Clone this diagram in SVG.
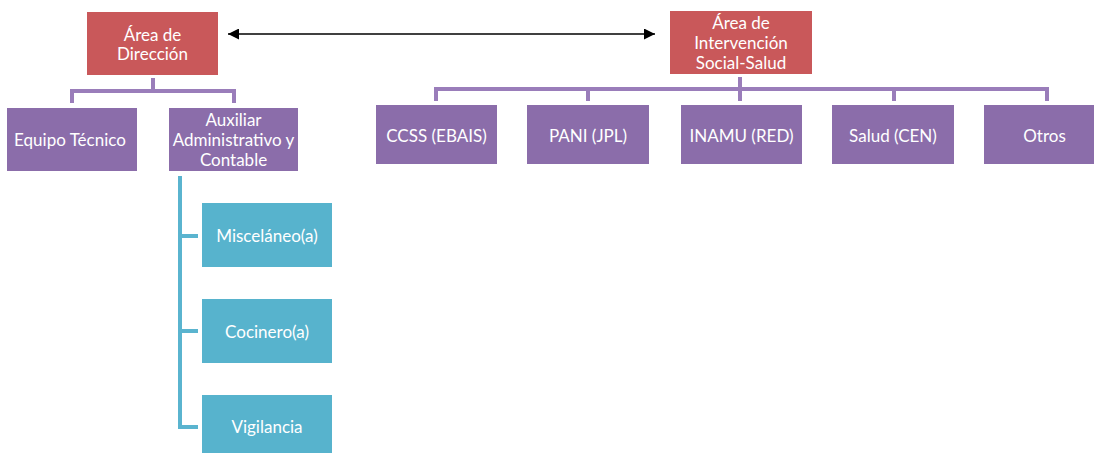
<svg xmlns="http://www.w3.org/2000/svg" width="1094" height="453" viewBox="0 0 1094 453">
<defs>
<style>
.red{fill:#C9585A}
.pur{fill:#8B6DAA}
.cya{fill:#57B3CD}
text{font-family:Lato,"Open Sans","Liberation Sans",sans-serif;font-size:17px;fill:#FFFFFF;text-anchor:middle;dominant-baseline:central}
.pl{fill:none;stroke:#9A7DBA;stroke-width:4}
.cl{fill:none;stroke:#5AB4CF;stroke-width:4}
</style>
<marker id="ah" viewBox="0 0 10 10" refX="10" refY="5" markerWidth="16" markerHeight="11" markerUnits="userSpaceOnUse" orient="auto-start-reverse">
<path d="M0,0 L10,5 L0,10 Z" fill="#000"/>
</marker>
</defs>
<rect width="1094" height="453" fill="#FFFFFF"/>
<g id="connectors">
<line x1="228" y1="34" x2="655" y2="34" stroke="#000" stroke-width="1.5" marker-start="url(#ah)" marker-end="url(#ah)"/>
<path class="pl" d="M153,78 V91 M72,103 V91 H234 V103"/>
<path class="pl" d="M740,77 V89 M436,101 V89 H1047 V101 M588,89 V101 M740,89 V101 M894,89 V101"/>
<path class="cl" d="M180,176 V427 H198 M180,236 H198 M180,331 H198"/>
</g>
<g id="direccion"><rect class="red" x="87" y="12" width="131" height="63"/><text x="152.5" y="34">Área de</text><text x="152.5" y="53">Dirección</text></g>
<g id="intervencion"><rect class="red" x="670" y="11" width="142" height="63"/><text x="741" y="22">Área de</text><text x="741" y="42">Intervención</text><text x="741" y="62">Social-Salud</text></g>
<g id="equipo"><rect class="pur" x="7" y="108" width="130" height="63"/><text x="70" y="139">Equipo Técnico</text></g>
<g id="auxiliar"><rect class="pur" x="169" y="108" width="129" height="63"/><text x="233.5" y="119">Auxiliar</text><text x="233.5" y="139">Administrativo y</text><text x="233.5" y="159">Contable</text></g>
<g id="ccss"><rect class="pur" x="376" y="105" width="121" height="59"/><text x="436.5" y="135">CCSS  (EBAIS)</text></g>
<g id="pani"><rect class="pur" x="527" y="105" width="122" height="59"/><text x="588" y="135">PANI (JPL)</text></g>
<g id="inamu"><rect class="pur" x="681" y="105" width="121" height="59"/><text x="741.5" y="135">INAMU (RED)</text></g>
<g id="salud"><rect class="pur" x="832" y="105" width="122" height="59"/><text x="893" y="135">Salud (CEN)</text></g>
<g id="otros"><rect class="pur" x="984" y="105" width="121" height="59"/><text x="1044.5" y="135">Otros</text></g>
<g id="miscelaneo"><rect class="cya" x="202" y="203" width="130" height="64"/><text x="267" y="235">Misceláneo(a)</text></g>
<g id="cocinero"><rect class="cya" x="202" y="299" width="130" height="64"/><text x="267" y="331">Cocinero(a)</text></g>
<g id="vigilancia"><rect class="cya" x="202" y="395" width="130" height="64"/><text x="267" y="426">Vigilancia</text></g>
</svg>
